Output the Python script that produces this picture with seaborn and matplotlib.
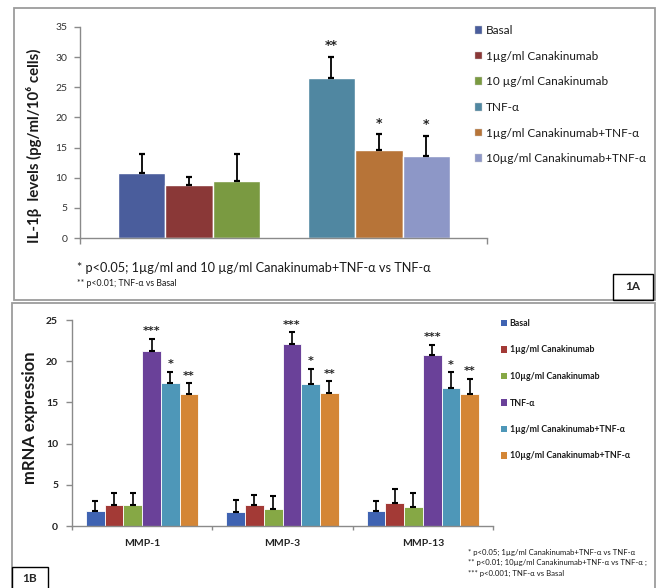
import numpy as np
import pandas as pd
import matplotlib
matplotlib.use("Agg")
import matplotlib.pyplot as plt
from matplotlib.patches import Rectangle, Patch
import seaborn as sns

# ---------------- data: panel 1A ----------------
a_treatments = ["Basal", "1µg/ml Canakinumab", "10 µg/ml Canakinumab", "TNF-α",
                "1µg/ml Canakinumab+TNF-α", "10µg/ml Canakinumab+TNF-α"]
a_values = [10.8, 8.8, 9.4, 26.6, 14.6, 13.6]
a_errors = [3.1, 1.3, 4.5, 3.5, 2.7, 3.4]
a_stars = ["", "", "", "**", "*", "*"]
a_yticks = [0, 5, 10, 15, 20, 25, 30, 35]
a_colors = ["#4A5D9C", "#8A3837", "#7A9A41", "#5087A1", "#B77438", "#8D97C7"]

# ---------------- data: panel 1B ----------------
b_genes = ["MMP-1", "MMP-3", "MMP-13"]
b_treatments = ["Basal", "1µg/ml Canakinumab", "10µg/ml Canakinumab", "TNF-α",
                "1µg/ml Canakinumab+TNF-α", "10µg/ml Canakinumab+TNF-α"]
b_values = {
    "MMP-1": [1.8, 2.5, 2.5, 21.2, 17.3, 16.0],
    "MMP-3": [1.7, 2.5, 2.1, 22.1, 17.2, 16.1],
    "MMP-13": [1.8, 2.75, 2.25, 20.8, 16.75, 16.0],
}
b_errors = {
    "MMP-1": [1.2, 1.55, 1.55, 1.5, 1.45, 1.3],
    "MMP-3": [1.4, 1.25, 1.5, 1.4, 1.85, 1.45],
    "MMP-13": [1.25, 1.7, 1.7, 1.2, 1.9, 1.85],
}
b_stars = ["", "", "", "***", "*", "**"]
b_yticks = [0, 5, 10, 15, 20, 25]
b_colors = ["#3F63B2", "#A33A36", "#86A845", "#6A4199", "#4E97B8", "#D48636"]

a_note1 = "* p<0.05; 1µg/ml and 10 µg/ml Canakinumab+TNF-α vs TNF-α"
a_note2 = "** p<0.01; TNF-α vs Basal"
b_notes = ["* p<0.05; 1µg/ml Canakinumab+TNF-α vs TNF-α",
           "** p<0.01; 10µg/ml Canakinumab+TNF-α vs TNF-α ;",
           "*** p<0.001; TNF-α vs Basal"]

sns.set_theme(style="white")
FAM = ["Lato", "DejaVu Sans"]
plt.rcParams["font.family"] = FAM
plt.rcParams["axes.unicode_minus"] = False
STAR_FAM = ["DejaVu Sans"]

W, H = 657, 588
fig = plt.figure(figsize=(W / 100, H / 100), dpi=100)
fig.patch.set_facecolor("white")


def fx(px):
    return px / W


def fy(py):
    return 1 - py / H


def box(x0, y0, x1, y1, color, lw):
    fig.add_artist(Rectangle((fx(x0), fy(y1)), (x1 - x0) / W, (y1 - y0) / H,
                             transform=fig.transFigure, fill=False,
                             edgecolor=color, linewidth=lw, zorder=0))


# panel frames
box(14, 8, 655, 300, "#9c9c9c", 1.3)
box(12, 303, 655, 600, "#9c9c9c", 1.3)
box(613, 274, 653, 300, "black", 1.0)
box(12, 567, 48, 600, "black", 1.0)
fig.text(fx(633), fy(287), "1A", ha="center", va="center", fontsize=8.5, fontweight="bold")
fig.text(fx(30), fy(578), "1B", ha="center", va="center", fontsize=8.5, fontweight="bold")

SPINE = "#8a8a8a"
TXT = "#1a1a1a"

# ---------------- panel 1A ----------------
ax_a = fig.add_axes([fx(80), fy(238), (487 - 80) / W, (238 - 27) / H])
slots = [i + (1 if i >= 3 else 0) for i in range(len(a_treatments))]
df_a = pd.DataFrame({"treatment": a_treatments, "value": a_values, "slot": slots})
sns.barplot(data=df_a, x="slot", y="value", hue="treatment", hue_order=a_treatments,
            palette=a_colors, native_scale=True, dodge=False, width=1.0,
            errorbar=None, legend=False, edgecolor="white", linewidth=1.0,
            saturation=1.0, ax=ax_a)
for bar in ax_a.patches:
    if bar is None or bar.get_height() <= 0:
        continue
    xc = bar.get_x() + bar.get_width() / 2
    s = int(round(xc))
    if s not in slots:
        continue
    i = slots.index(s)
    top = bar.get_height()
    ax_a.errorbar([xc], [top], yerr=[[0], [a_errors[i]]], fmt="none", ecolor="black",
                  elinewidth=1.3, capsize=2.5, capthick=1.6, zorder=3)
    if a_stars[i]:
        ax_a.annotate(a_stars[i], (xc, top + a_errors[i]), xytext=(0, 3),
                      textcoords="offset points", ha="center", va="bottom",
                      fontsize=9, fontweight="bold", color="#222222", family=STAR_FAM)
ax_a.set_xlim(-1.295, 7.274)
ax_a.set_ylim(0, 35)
ax_a.set_yticks(a_yticks)
ax_a.set_yticklabels([str(t) for t in a_yticks], fontsize=7.5, color="#333333")
ax_a.set_xticks([])
ax_a.set_xticks([-1.295, 7.274], minor=True)
ax_a.tick_params(axis="x", which="minor", length=4, width=1, color=SPINE, direction="out", bottom=True)
ax_a.tick_params(axis="y", length=4, width=1, color=SPINE, direction="out", left=True, pad=5)
ax_a.set_xlabel("")
ax_a.set_ylabel("IL-1β  levels (pg/ml/10⁶ cells)", fontsize=10.8, fontweight="bold",
                color=TXT)
ax_a.yaxis.set_label_coords(-(80 - 42) / (487 - 80), (238 - 146) / (238 - 27))
for s in ["top", "right"]:
    ax_a.spines[s].set_visible(False)
for s in ["left", "bottom"]:
    ax_a.spines[s].set_color(SPINE)
    ax_a.spines[s].set_linewidth(1.0)
ax_a.set_facecolor("none")

handles_a = [Patch(facecolor=c, edgecolor="#cccccc", linewidth=0.3) for c in a_colors]
fig.legend(handles_a, a_treatments, loc="upper left", bbox_to_anchor=(fx(475), fy(25)),
           frameon=False, fontsize=8.5, handlelength=0.6, handleheight=0.6,
           handletextpad=0.35, labelspacing=1.24, borderpad=0, borderaxespad=0,
           labelcolor=TXT)

fig.text(fx(77), fy(268), a_note1, ha="left", va="center", fontsize=9.2, color=TXT)
fig.text(fx(77), fy(283), a_note2, ha="left", va="center", fontsize=6.3, color=TXT)

# ---------------- panel 1B ----------------
ax_b = fig.add_axes([fx(72), fy(526), (493 - 72) / W, (526 - 320) / H])
rows = []
for g in b_genes:
    for t, v in zip(b_treatments, b_values[g]):
        rows.append({"gene": g, "treatment": t, "value": v})
df_b = pd.DataFrame(rows)
GW = 0.8
sns.barplot(data=df_b, x="gene", y="value", hue="treatment", order=b_genes,
            hue_order=b_treatments, palette=b_colors, width=GW, errorbar=None,
            legend=False, edgecolor="white", linewidth=0.6, saturation=1.0, ax=ax_b)
nh = len(b_treatments)
for bar in ax_b.patches:
    if bar is None or bar.get_height() <= 0:
        continue
    xc = bar.get_x() + bar.get_width() / 2
    gi = int(round(xc))
    off = xc - gi
    hi = int(round((off + GW / 2) / (GW / nh) - 0.5))
    if not (0 <= gi < len(b_genes) and 0 <= hi < nh):
        continue
    g = b_genes[gi]
    top = bar.get_height()
    err = b_errors[g][hi]
    ax_b.errorbar([xc], [top], yerr=[[0], [err]], fmt="none", ecolor="black",
                  elinewidth=1.2, capsize=2.2, capthick=1.5, zorder=3)
    if b_stars[hi]:
        ax_b.annotate(b_stars[hi], (xc, top + err), xytext=(0, 2),
                      textcoords="offset points", ha="center", va="bottom",
                      fontsize=8, fontweight="bold", color="#222222", family=STAR_FAM)
ax_b.set_xlim(-0.5, 2.5)
ax_b.set_ylim(0, 25)
ax_b.set_yticks(b_yticks)
ax_b.set_yticklabels([str(t) for t in b_yticks], fontsize=7.5, fontweight="bold", color="#222222")
ax_b.set_xticks(range(len(b_genes)))
ax_b.set_xticklabels(b_genes, fontsize=7.5, fontweight="bold", color="#222222")
ax_b.set_xticks([-0.5, 0.5, 1.5, 2.5], minor=True)
ax_b.tick_params(axis="x", which="major", length=0, pad=9)
ax_b.tick_params(axis="x", which="minor", length=3, width=1, color=SPINE, direction="out", bottom=True)
ax_b.tick_params(axis="y", length=4, width=1, color=SPINE, direction="out", left=True, pad=6)
ax_b.set_xlabel("")
ax_b.set_ylabel("mRNA expression", fontsize=12, fontweight="bold", color=TXT)
ax_b.yaxis.set_label_coords(-(72 - 38) / (493 - 72), (526 - 418) / (526 - 320))
for s in ["top", "right"]:
    ax_b.spines[s].set_visible(False)
for s in ["left", "bottom"]:
    ax_b.spines[s].set_color(SPINE)
    ax_b.spines[s].set_linewidth(1.0)
ax_b.set_facecolor("none")

handles_b = [Patch(facecolor=c, edgecolor="none") for c in b_colors]
fig.legend(handles_b, b_treatments, loc="upper left", bbox_to_anchor=(fx(501), fy(319)),
           frameon=False, prop={"weight": "bold", "size": 6.3},
           handlelength=0.7, handleheight=0.7, handletextpad=0.3, labelspacing=2.0,
           borderpad=0, borderaxespad=0, labelcolor=TXT)

for k, note in enumerate(b_notes):
    fig.text(fx(468), fy(552 + 10.5 * k), note, ha="left", va="center", fontsize=5.6,
             color=TXT)

fig.savefig("out.png", dpi=100, facecolor="white")
